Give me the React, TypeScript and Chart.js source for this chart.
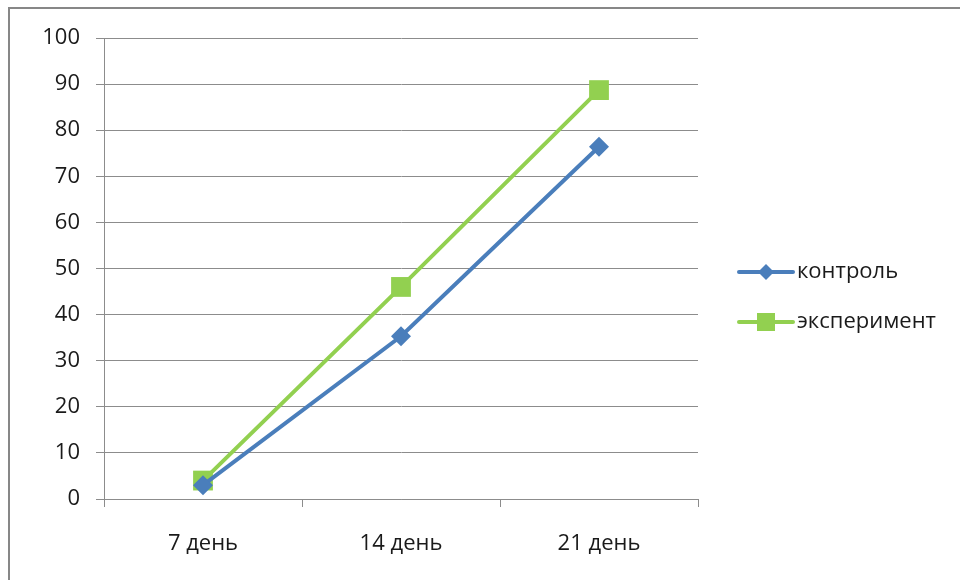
import React, { useEffect, useRef } from "react";
import { Chart, registerables } from "chart.js";

Chart.register(...registerables);

const categories = ["7 день", "14 день", "21 день"];
const controlValues = [3, 35.3, 76.4];
const experimentValues = [4, 46, 88.7];
const seriesNames = ["контроль", "эксперимент"];
const yTicks = [0, 10, 20, 30, 40, 50, 60, 70, 80, 90, 100];

const BLUE = "#4A7EBB";
const GREEN = "#92D050";
const GRID = "#8C8C8C";
const TEXT = "#1a1a1a";
const FONT = "'Open Sans', 'Noto Sans', sans-serif";
const FONT_SIZE = 22;

// Legend drawn beside the plot: a short line with the series marker, then the name.
const sideLegend = {
  id: "sideLegend",
  afterDraw(chart: any) {
    const ctx = chart.ctx;
    const x0 = 739;
    const rows = [272, 322];
    chart.data.datasets.forEach((ds: any, i: number) => {
      const y = rows[i];
      ctx.save();
      ctx.strokeStyle = ds.borderColor;
      ctx.lineWidth = 4;
      ctx.lineCap = "round";
      ctx.beginPath();
      ctx.moveTo(x0, y);
      ctx.lineTo(x0 + 54, y);
      ctx.stroke();
      ctx.fillStyle = ds.borderColor;
      const cx = x0 + 27;
      if (ds.pointStyle === "rectRot") {
        const r = 8;
        ctx.beginPath();
        ctx.moveTo(cx, y - r);
        ctx.lineTo(cx + r, y);
        ctx.lineTo(cx, y + r);
        ctx.lineTo(cx - r, y);
        ctx.closePath();
        ctx.fill();
      } else {
        ctx.fillRect(cx - 9, y - 9, 18, 18);
      }
      ctx.fillStyle = TEXT;
      ctx.font = `${FONT_SIZE}px ${FONT}`;
      ctx.textBaseline = "middle";
      ctx.textAlign = "left";
      ctx.fillText(ds.label, x0 + 58, y);
      ctx.restore();
    });
  },
};

export default function App() {
  const canvasRef = useRef<HTMLCanvasElement | null>(null);

  useEffect(() => {
    if (!canvasRef.current) return;
    const chart = new Chart(canvasRef.current, {
      type: "line",
      data: {
        labels: categories,
        datasets: [
          {
            label: seriesNames[0],
            data: controlValues,
            borderColor: BLUE,
            backgroundColor: BLUE,
            borderWidth: 4,
            pointStyle: "rectRot",
            pointRadius: 10,
            pointBorderWidth: 0,
            tension: 0,
          },
          {
            label: seriesNames[1],
            data: experimentValues,
            borderColor: GREEN,
            backgroundColor: GREEN,
            borderWidth: 4,
            pointStyle: "rect",
            pointRadius: 14,
            pointBorderWidth: 0,
            tension: 0,
          },
        ],
      },
      options: {
        responsive: false,
        animation: false,
        devicePixelRatio: 1,
        layout: { padding: { left: 20, top: 38, right: 262, bottom: 0 } },
        plugins: {
          legend: { display: false },
          tooltip: { enabled: false },
        },
        scales: {
          x: {
            type: "category",
            offset: true,
            grid: {
              offset: true,
              drawOnChartArea: false,
              drawTicks: true,
              tickLength: 8,
              color: GRID,
              lineWidth: 1,
            },
            border: { color: GRID, width: 1 },
            ticks: {
              color: TEXT,
              font: { family: FONT, size: FONT_SIZE },
              padding: 24,
            },
            afterFit(scale: any) {
              scale.height = 81;
            },
          },
          y: {
            min: 0,
            max: 100,
            afterBuildTicks(scale: any) {
              scale.ticks = yTicks.map((v) => ({ value: v }));
            },
            grid: {
              color: GRID,
              lineWidth: 1,
              tickLength: 8,
            },
            border: { color: GRID, width: 1 },
            ticks: {
              color: TEXT,
              font: { family: FONT, size: FONT_SIZE },
              padding: 16,
            },
            afterFit(scale: any) {
              scale.width = 84;
            },
          },
        },
      },
      plugins: [sideLegend],
    });
    return () => chart.destroy();
  }, []);

  return (
    <div>
      <div
        style={{
          position: "fixed",
          left: 8,
          top: 7,
          width: 980,
          height: 600,
          border: "2px solid #878787",
          boxSizing: "border-box",
        }}
      />
      <canvas
        ref={canvasRef}
        width={960}
        height={580}
        style={{ position: "fixed", left: 0, top: 0, width: 960, height: 580 }}
      />
    </div>
  );
}
